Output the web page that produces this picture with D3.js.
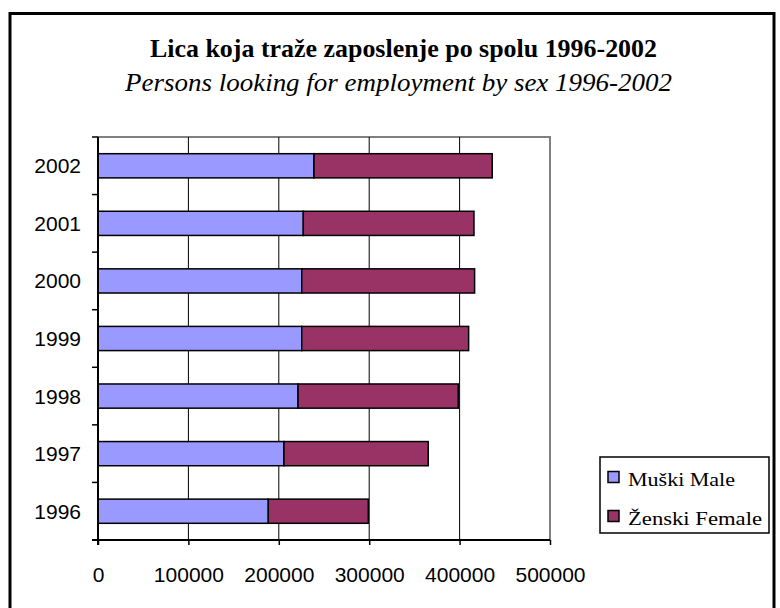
<!DOCTYPE html>
<html>
<head>
<meta charset="utf-8">
<script src="https://cdn.jsdelivr.net/npm/d3@7"></script>
<style>
  body { margin: 0; background: #fff; }
  svg { display: block; }
</style>
</head>
<body>
<svg id="chart" width="780" height="608"></svg>
<script>
(function(){
const width = 780;
const height = 608;

// --- Data ---
const years = ["1996", "1997", "1998", "1999", "2000", "2001", "2002"];
const male = [188400, 205700, 221300, 225400, 225400, 227100, 238900];
const female = [110600, 159600, 177200, 184600, 191200, 188800, 197200];
const seriesNames = ["Muški Male", "Ženski Female"];
const xTicks = [0, 100000, 200000, 300000, 400000, 500000];

const colors = ["#9999ff", "#993366"];

const svg = d3.select("#chart");

const serif = "'Liberation Serif', 'Times New Roman', serif";
const sans = "'Liberation Sans', Arial, sans-serif";

// outer frame
svg.append("rect")
  .attr("x", 10).attr("y", 13.5)
  .attr("width", 764).attr("height", 620)
  .attr("fill", "#fff")
  .attr("stroke", "#000")
  .attr("stroke-width", 3);

// --- Titles ---
svg.append("text")
  .attr("x", 150).attr("y", 57)
  .attr("font-family", serif)
  .attr("font-weight", "bold")
  .attr("font-size", 25)
  .attr("textLength", 507)
  .attr("lengthAdjust", "spacingAndGlyphs")
  .text("Lica koja traže zaposlenje po spolu 1996-2002");

svg.append("text")
  .attr("x", 125).attr("y", 91)
  .attr("font-family", serif)
  .attr("font-style", "italic")
  .attr("font-size", 25)
  .attr("textLength", 547)
  .attr("lengthAdjust", "spacingAndGlyphs")
  .text("Persons looking for employment by sex 1996-2002");

// --- Scales ---
const plot = { left: 98, right: 550, top: 137, bottom: 540 };

const x = d3.scaleLinear()
  .domain([0, 500000])
  .range([plot.left, plot.right]);

const y = d3.scaleBand()
  .domain(years.slice().reverse())
  .range([plot.top, plot.bottom])
  .paddingInner(0.58)
  .paddingOuter(0.29);

// plot area border
svg.append("rect")
  .attr("x", plot.left).attr("y", plot.top)
  .attr("width", plot.right - plot.left)
  .attr("height", plot.bottom - plot.top)
  .attr("fill", "#fff")
  .attr("stroke", "#808080")
  .attr("stroke-width", 2);

// gridlines
svg.append("g")
  .selectAll("line")
  .data(xTicks.slice(1, -1))
  .enter()
  .append("line")
  .attr("x1", d => x(d)).attr("x2", d => x(d))
  .attr("y1", plot.top).attr("y2", plot.bottom)
  .attr("stroke", "#000")
  .attr("stroke-width", 1);

// --- Bars ---
const stackData = years.map((yr, i) => ({ year: yr, male: male[i], female: female[i] }));
const stack = d3.stack().keys(["male", "female"])(stackData);

svg.append("g")
  .selectAll("g")
  .data(stack)
  .enter()
  .append("g")
  .attr("fill", (d, i) => colors[i])
  .selectAll("rect")
  .data(d => d)
  .enter()
  .append("rect")
  .attr("x", d => x(d[0]))
  .attr("y", d => y(d.data.year))
  .attr("width", d => x(d[1]) - x(d[0]))
  .attr("height", y.bandwidth())
  .attr("stroke", "#000")
  .attr("stroke-width", 1.5);

// --- Axes ---
const band = (plot.bottom - plot.top) / years.length;
const yTickPos = d3.range(years.length + 1).map(i => plot.top + i * band);

// y axis line + ticks
svg.append("line")
  .attr("x1", plot.left).attr("x2", plot.left)
  .attr("y1", plot.top).attr("y2", plot.bottom + 5)
  .attr("stroke", "#000").attr("stroke-width", 2);

svg.append("g")
  .selectAll("line")
  .data(yTickPos)
  .enter()
  .append("line")
  .attr("x1", plot.left - 6).attr("x2", plot.left)
  .attr("y1", d => d).attr("y2", d => d)
  .attr("stroke", "#000").attr("stroke-width", 1.5);

svg.append("g")
  .selectAll("text")
  .data(years)
  .enter()
  .append("text")
  .attr("x", 81)
  .attr("y", d => y(d) + y.bandwidth() / 2)
  .attr("dy", "0.36em")
  .attr("text-anchor", "end")
  .attr("font-family", sans)
  .attr("font-size", 21)
  .text(d => d);

// x axis
const xAxis = svg.append("g")
  .attr("transform", `translate(0,${plot.bottom})`)
  .call(d3.axisBottom(x).tickValues(xTicks).tickFormat(d3.format("d")).tickSize(5).tickPadding(22));

xAxis.select(".domain")
  .attr("stroke", "#000").attr("stroke-width", 2)
  .attr("d", `M${plot.left - 6},0H${plot.right}`);
xAxis.selectAll(".tick line").attr("stroke", "#000").attr("stroke-width", 1.5);
xAxis.selectAll(".tick text")
  .attr("font-family", sans)
  .attr("font-size", 21)
  .attr("fill", "#000");

// --- Legend ---
const legend = svg.append("g").attr("transform", "translate(600,457)");
legend.append("rect")
  .attr("width", 169).attr("height", 76)
  .attr("fill", "#fff")
  .attr("stroke", "#000").attr("stroke-width", 1.5);

const legendWidths = [107, 134];

const item = legend.selectAll("g.item")
  .data(seriesNames)
  .enter()
  .append("g")
  .attr("class", "item")
  .attr("transform", (d, i) => `translate(8,${20 + i * 39})`);

item.append("rect")
  .attr("x", 0).attr("y", -5.5)
  .attr("width", 11).attr("height", 11)
  .attr("fill", (d, i) => colors[i])
  .attr("stroke", "#000").attr("stroke-width", 1.5);

item.append("text")
  .attr("x", 20).attr("y", 9)
  .attr("font-family", serif)
  .attr("font-size", 19)
  .attr("textLength", (d, i) => legendWidths[i])
  .attr("lengthAdjust", "spacingAndGlyphs")
  .text(d => d);
})();
</script>
</body>
</html>
